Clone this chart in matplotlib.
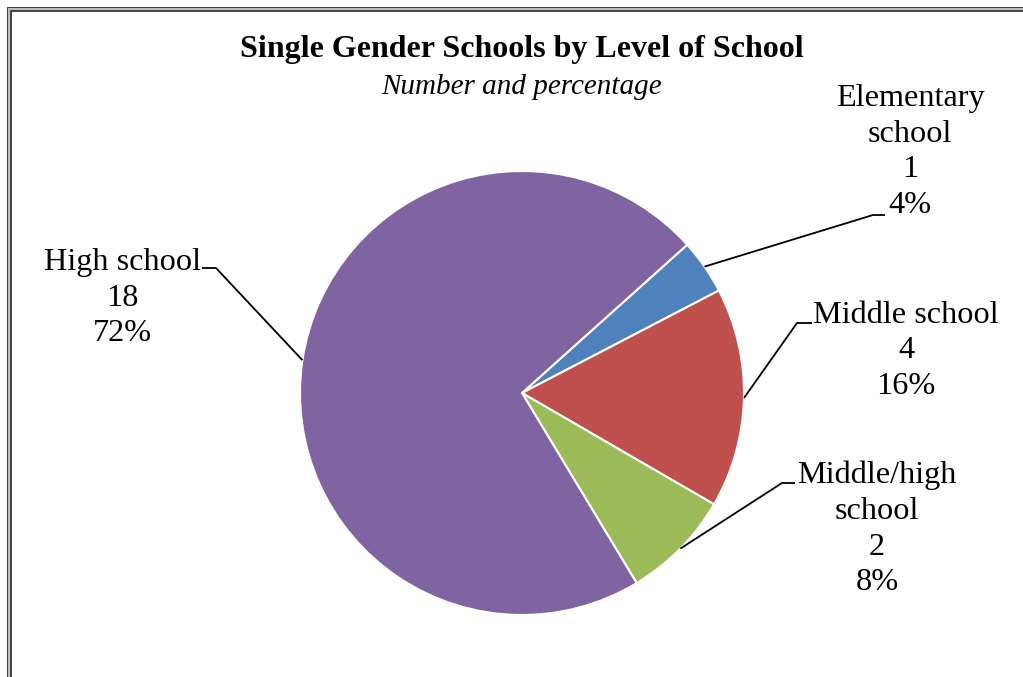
import numpy as np
import matplotlib
matplotlib.use("Agg")
import matplotlib.pyplot as plt

plt.rcParams["font.family"] = ["Liberation Serif", "DejaVu Serif"]

# data
categories = ["Elementary\nschool", "Middle school", "Middle/high\nschool", "High school"]
counts = [1, 4, 2, 18]
colors = ["#4F81BD", "#C0504D", "#9BBB59", "#8064A2"]
title = "Single Gender Schools by Level of School"
subtitle = "Number and percentage"

W, H = 1023, 677


def main():
    fig = plt.figure(figsize=(W / 100, H / 100), dpi=100)
    ax = fig.add_axes([0, 0, 1, 1])

    # pie in pixel space (y flipped)
    cx, cy, r = 522, H - 393, 222
    start = 41.9
    wedges, _ = ax.pie(counts, colors=colors, center=(cx, cy), radius=r,
                       startangle=start, counterclock=False,
                       wedgeprops=dict(edgecolor="white", linewidth=1.5),
                       frame=True)
    ax.set_xlim(0, W)
    ax.set_ylim(0, H)
    ax.axis("off")

    # label layout: text centre (px), elbow point, horizontal end
    text_pos = [(910, 152), (906, 351), (877, 529), (122, 298)]
    elbows = [(873, 215), (797, 323), (782, 483), (216, 268)]
    ends = [(885, 215), (812, 323), (795, 483), (202, 268)]

    total = sum(counts)
    for w, name, n, tp, el, en in zip(wedges, categories, counts, text_pos, elbows, ends):
        mid = np.deg2rad((w.theta1 + w.theta2) / 2)
        sx = cx + r * np.cos(mid)
        sy = cy + r * np.sin(mid)
        ax.plot([sx, el[0], en[0]], [sy, H - el[1], H - en[1]],
                color="black", lw=1.3, solid_capstyle="butt")
        pct = round(n / total * 100)
        ax.text(tp[0], H - tp[1], f"{name}\n{n}\n{pct}%", ha="center", va="center",
                fontsize=23.2, linespacing=1.31)

    ax.text(522, H - 50, title, ha="center", va="center", fontsize=23,
            fontweight="bold")
    ax.text(522, H - 87, subtitle, ha="center", va="center", fontsize=21,
            style="italic")

    # double frame (extends past right/bottom edges)
    for off, lw, c in [(7.8, 2.0, "#222222"), (9.3, 1.5, "#bbbbbb"), (10.8, 1.2, "#222222")]:
        ax.plot([off, off, W + 20], [-20, H - off, H - off], color=c, lw=lw,
                solid_joinstyle="miter", clip_on=False)

    fig.savefig("out.png", dpi=100)


if __name__ == "__main__":
    main()
